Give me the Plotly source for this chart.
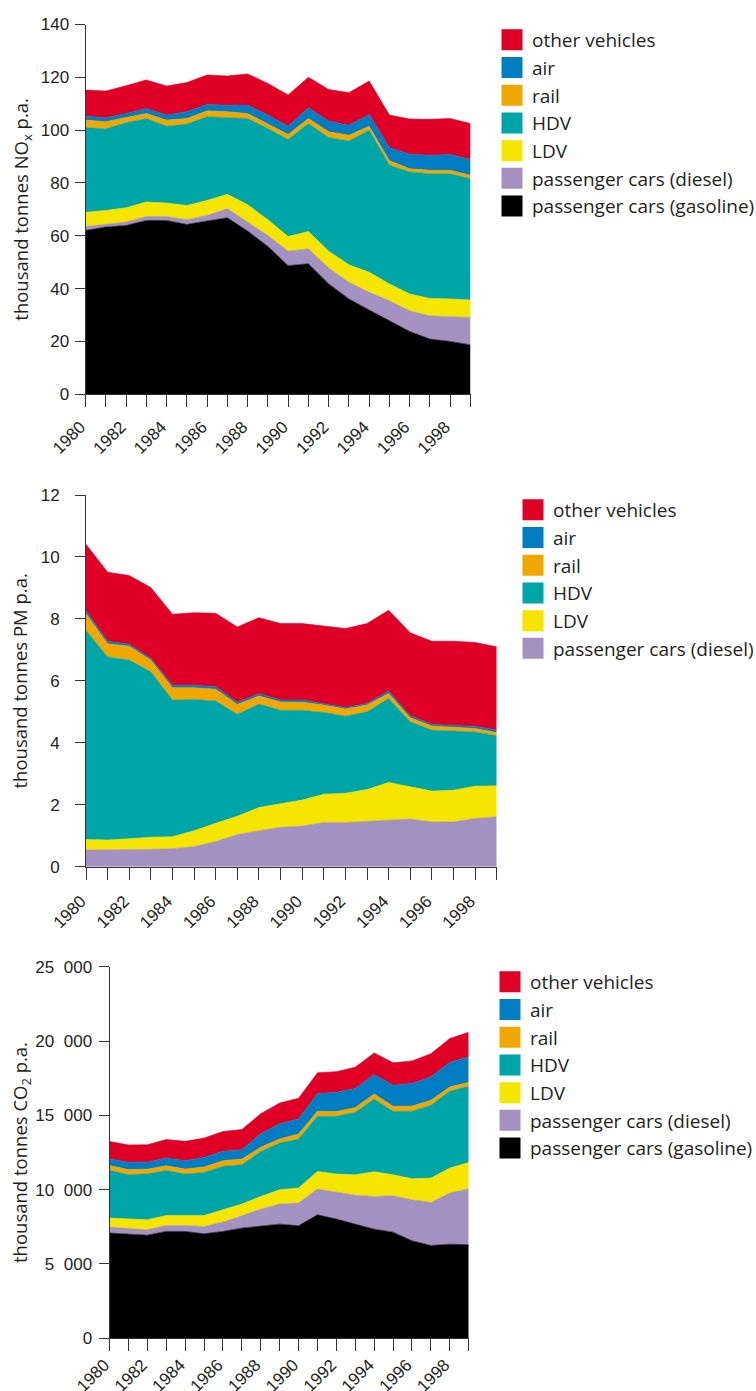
import plotly.graph_objects as go

years = list(range(1980, 2000))

colors = {
    "passenger cars (gasoline)": "#000000",
    "passenger cars (diesel)": "#A391C2",
    "LDV": "#F6E500",
    "HDV": "#00A5A8",
    "rail": "#F0A800",
    "air": "#007DC3",
    "other vehicles": "#E00026",
}

# NOx, thousand tonnes
nox_gasoline = [62.0, 63.3, 63.9, 65.8, 65.8, 64.3, 65.6, 66.8, 61.8, 56.0, 48.7, 49.4, 41.8, 36.1, 31.9, 27.8, 23.8, 20.9, 20.0, 18.7]
nox_diesel = [1.5, 1.0, 1.3, 1.5, 1.5, 1.8, 2.1, 3.5, 3.4, 4.1, 5.5, 5.7, 6.0, 6.3, 6.7, 7.6, 7.8, 8.8, 9.4, 10.4]
nox_ldv = [5.4, 5.3, 5.4, 5.5, 5.1, 5.4, 5.7, 5.4, 6.6, 6.0, 5.5, 6.5, 6.4, 6.6, 7.6, 6.4, 6.4, 6.6, 6.7, 6.6]
nox_hdv = [32.1, 30.9, 32.2, 31.6, 29.1, 30.8, 31.7, 29.0, 32.6, 34.5, 36.8, 40.9, 43.0, 46.9, 53.8, 44.9, 46.2, 47.2, 47.4, 45.9]
nox_rail = [2.8, 2.7, 2.0, 1.9, 2.3, 2.1, 2.2, 2.3, 1.9, 1.9, 1.9, 1.9, 2.2, 2.2, 1.5, 1.7, 1.2, 1.3, 1.3, 1.3]
nox_air = [1.5, 1.5, 1.5, 1.9, 1.9, 2.6, 2.4, 2.4, 3.2, 3.2, 3.1, 4.1, 4.0, 3.8, 4.4, 4.9, 5.5, 5.7, 6.0, 6.0]
nox_other = [9.9, 10.1, 10.5, 10.8, 11.0, 11.0, 11.2, 11.1, 11.8, 12.0, 11.8, 11.5, 12.0, 12.3, 12.7, 12.4, 13.3, 13.6, 13.6, 13.6]

# PM, thousand tonnes
pm_diesel = [0.54, 0.54, 0.54, 0.56, 0.58, 0.65, 0.81, 1.04, 1.16, 1.27, 1.31, 1.43, 1.43, 1.47, 1.51, 1.54, 1.45, 1.45, 1.56, 1.61]
pm_ldv = [0.34, 0.32, 0.36, 0.39, 0.39, 0.51, 0.59, 0.59, 0.75, 0.77, 0.84, 0.91, 0.94, 1.02, 1.21, 1.04, 0.99, 1.02, 1.04, 1.00]
pm_hdv = [6.75, 5.91, 5.77, 5.34, 4.41, 4.24, 3.95, 3.29, 3.34, 3.01, 2.90, 2.64, 2.49, 2.51, 2.71, 2.10, 1.97, 1.92, 1.75, 1.62]
pm_rail = [0.54, 0.43, 0.45, 0.38, 0.40, 0.38, 0.38, 0.32, 0.26, 0.27, 0.26, 0.24, 0.23, 0.22, 0.16, 0.13, 0.13, 0.10, 0.11, 0.10]
pm_air = [0.09, 0.08, 0.06, 0.06, 0.08, 0.08, 0.08, 0.07, 0.07, 0.06, 0.07, 0.05, 0.05, 0.05, 0.08, 0.06, 0.06, 0.07, 0.07, 0.08]
pm_other = [2.15, 2.23, 2.22, 2.28, 2.29, 2.34, 2.37, 2.43, 2.46, 2.47, 2.47, 2.49, 2.55, 2.58, 2.61, 2.68, 2.68, 2.72, 2.71, 2.69]

# CO2, thousand tonnes
co2_gasoline = [7080, 7030, 6940, 7190, 7190, 7030, 7190, 7410, 7570, 7680, 7570, 8310, 8020, 7680, 7340, 7140, 6560, 6240, 6330, 6290]
co2_diesel = [400, 360, 360, 400, 400, 490, 630, 830, 1120, 1350, 1530, 1730, 1820, 1950, 2200, 2450, 2760, 2900, 3440, 3770]
co2_ldv = [610, 630, 670, 670, 670, 740, 830, 790, 850, 970, 1010, 1190, 1210, 1370, 1660, 1410, 1420, 1640, 1680, 1770]
co2_hdv = [3210, 2990, 3100, 3030, 2790, 2900, 2920, 2650, 3030, 3140, 3300, 3710, 3890, 4200, 4900, 4270, 4540, 4900, 5170, 5120]
co2_rail = [320, 340, 310, 320, 340, 360, 380, 380, 290, 270, 340, 340, 310, 320, 340, 340, 340, 340, 290, 270]
co2_air = [450, 490, 470, 520, 560, 650, 630, 630, 900, 1030, 1010, 1190, 1300, 1280, 1300, 1420, 1530, 1570, 1660, 1710]
co2_other = [1170, 1170, 1170, 1240, 1300, 1300, 1330, 1350, 1350, 1390, 1390, 1390, 1390, 1440, 1460, 1510, 1510, 1550, 1600, 1660]

charts = [
    dict(key="nox", ax="", legend="legend", data=[
        ("passenger cars (gasoline)", nox_gasoline), ("passenger cars (diesel)", nox_diesel),
        ("LDV", nox_ldv), ("HDV", nox_hdv), ("rail", nox_rail), ("air", nox_air),
        ("other vehicles", nox_other)]),
    dict(key="pm", ax="2", legend="legend2", data=[
        ("passenger cars (diesel)", pm_diesel), ("LDV", pm_ldv), ("HDV", pm_hdv),
        ("rail", pm_rail), ("air", pm_air), ("other vehicles", pm_other)]),
    dict(key="co2", ax="3", legend="legend3", data=[
        ("passenger cars (gasoline)", co2_gasoline), ("passenger cars (diesel)", co2_diesel),
        ("LDV", co2_ldv), ("HDV", co2_hdv), ("rail", co2_rail), ("air", co2_air),
        ("other vehicles", co2_other)]),
]

W, H = 756, 1391
fig = go.Figure()

for ch in charts:
    for name, vals in ch["data"]:
        c = colors[name]
        fig.add_trace(go.Scatter(
            x=years, y=vals, name=name, mode="lines", stackgroup=ch["key"],
            line=dict(width=0.6, color=c), fillcolor=c,
            xaxis="x" + ch["ax"], yaxis="y" + ch["ax"],
            showlegend=False, hoverinfo="skip"))
    # legend entries, top entry = top layer
    for name, vals in reversed(ch["data"]):
        c = colors[name]
        fig.add_trace(go.Scatter(
            x=[None], y=[None], name=name, mode="markers",
            marker=dict(symbol="square", size=16, color=c, line=dict(color=c, width=5)),
            xaxis="x" + ch["ax"], yaxis="y" + ch["ax"],
            legend=ch["legend"], showlegend=True))


def xd(a, b):
    return [a / W, b / W]


def yd(top, bottom):
    return [1 - bottom / H, 1 - top / H]


tickfont = dict(family="Liberation Sans, Arial, sans-serif", size=17, color="#231F20")
titlefont = dict(family="Open Sans, sans-serif", size=18.5, color="#231F20")
axis_common = dict(showline=True, linecolor="#333333", linewidth=1, ticks="outside",
                   tickcolor="#333333", showgrid=False, zeroline=False,
                   tickfont=tickfont, automargin=False)

layouts = [
    ("", xd(85.5, 470.5), yd(24.5, 394.3), [0, 140], 20, "thousand tonnes NO<sub>x</sub> p.a.", 7, 2, 3),
    ("2", xd(86, 496.7), yd(495, 866.7), [0, 12], 2, "thousand tonnes PM p.a.", 8, 12, 5),
    ("3", xd(109.5, 468.7), yd(966.7, 1338.3), [0, 25000], 5000, "thousand tonnes CO<sub>2</sub> p.a.", 0, 3, -3),
]
lay = {}
for ax, xdom, ydom, yr, dt, title, stand, lblgap, xgap in layouts:
    xa = dict(domain=xdom, range=[1980, 1999], dtick=2, tick0=1980, tickangle=-45,
              anchor="y" + ax, ticklen=12, ticklabelstandoff=xgap, ticklabelshift=-5,
              minor=dict(dtick=1, tick0=1980, ticks="outside", ticklen=12, tickcolor="#333333"),
              **axis_common)
    ya = dict(domain=ydom, range=yr, dtick=dt, anchor="x" + ax, separatethousands=True,
              tickformat=",d", exponentformat="none", ticklen=10, ticklabelstandoff=lblgap,
              title=dict(text=title, font=titlefont, standoff=stand), **axis_common)
    lay["xaxis" + ax] = xa
    lay["yaxis" + ax] = ya

legend_common = dict(font=dict(family="Open Sans, sans-serif", size=19, color="#231F20"),
                     traceorder="normal", xanchor="left", yanchor="top",
                     bgcolor="rgba(0,0,0,0)", itemclick=False, itemdoubleclick=False)
lay["legend"] = dict(x=492 / W, y=1 - 21 / H, **legend_common)
lay["legend2"] = dict(x=513 / W, y=1 - 491 / H, **legend_common)
lay["legend3"] = dict(x=490 / W, y=1 - 963 / H, **legend_common)

fig.update_layout(
    width=W, height=H, margin=dict(l=0, r=0, t=0, b=0, autoexpand=False),
    paper_bgcolor="white", plot_bgcolor="white",
    separators=".\u2007",
    showlegend=True,
    **lay)

fig.write_html("out.html", config={"displayModeBar": False},
               post_script="document.body.style.margin='0px';")
